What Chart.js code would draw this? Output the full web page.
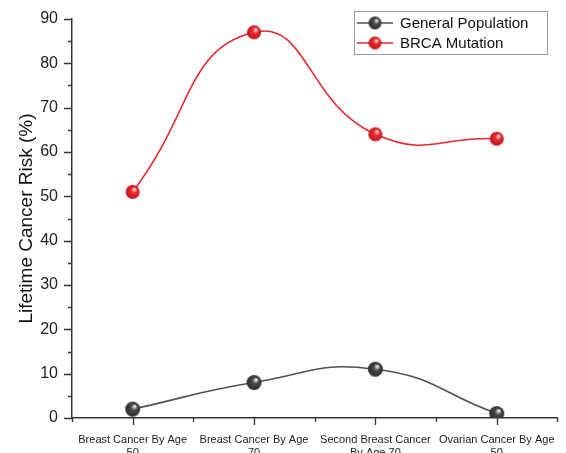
<!DOCTYPE html>
<html>
<head>
<meta charset="utf-8">
<script src="https://cdn.jsdelivr.net/npm/chart.js@4/dist/chart.umd.min.js"></script>
<style>
  html, body { margin: 0; padding: 0; background: #fff; }
  #wrap { width: 566px; height: 453px; }
</style>
</head>
<body>
<div id="wrap"><canvas id="riskChart" width="566" height="453"></canvas></div>
<script>
var categories = [
    ["Breast Cancer By Age", "50"],
    ["Breast Cancer By Age", "70"],
    ["Second Breast Cancer", "By Age 70"],
    ["Ovarian Cancer By Age", "50"]
];
var generalPopulation = [2, 8, 11, 1];
var brcaMutation = [51, 87, 64, 63];
var seriesNames = ["General Population", "BRCA Mutation"];
var yTicks = [0, 10, 20, 30, 40, 50, 60, 70, 80, 90];

var FONT = "'Liberation Sans', Arial, sans-serif";
var grayColor = "#505050";
var redColor = "#e8262c";

// little shaded ball used as point marker
function makeBall(r, base, light, dark) {
    var c = document.createElement('canvas');
    c.width = r * 2 + 2;
    c.height = r * 2 + 2;
    var g = c.getContext('2d');
    var cx = r + 1, cy = r + 1;
    var grad = g.createRadialGradient(cx + r * 0.3, cy - r * 0.4, r * 0.1, cx, cy, r);
    grad.addColorStop(0, light);
    grad.addColorStop(0.35, base);
    grad.addColorStop(1, dark);
    g.fillStyle = grad;
    g.beginPath();
    g.arc(cx, cy, r, 0, Math.PI * 2);
    g.fill();
    return c;
}
var grayBall = makeBall(7.5, "#4a4a4a", "#e8e8e8", "#2a2a2a");
var redBall = makeBall(7, "#ec2a30", "#ffd8d8", "#c01418");
var grayBallSmall = makeBall(6.5, "#4a4a4a", "#e8e8e8", "#2a2a2a");
var redBallSmall = makeBall(6.5, "#ec2a30", "#ffd8d8", "#c01418");

var extras = {
    id: 'extras',
    afterDraw: function(chart) {
        var ctx = chart.ctx;
        var ys = chart.scales.y;
        var area = chart.chartArea;
        ctx.save();
        ctx.strokeStyle = "#333";
        ctx.lineWidth = 1.3;
        ctx.beginPath();
        // y ticks, major at 10s and minor at 5s
        for (var v = 0; v <= 90; v += 5) {
            var py = Math.round(ys.getPixelForValue(v)) + 0.5;
            var len = (v % 10 === 0) ? 8 : 4;
            ctx.moveTo(area.left, py);
            ctx.lineTo(area.left - len, py);
        }
        // x ticks, major at categories, minor at boundaries
        var step = (area.right - area.left) / categories.length;
        for (var i = 0; i <= categories.length * 2; i++) {
            var px = Math.round(area.left + i * step / 2) + 0.5;
            var l = (i % 2 === 1) ? 7 : 4;
            ctx.moveTo(px, area.bottom);
            ctx.lineTo(px, area.bottom + l);
        }
        ctx.stroke();

        // legend box inside the plot
        var bx = 354, by = 11, bw = 193, bh = 43;
        ctx.fillStyle = "#fff";
        ctx.fillRect(bx, by, bw, bh);
        ctx.strokeStyle = "#9a9a9a";
        ctx.lineWidth = 1;
        ctx.strokeRect(bx + 0.5, by + 0.5, bw, bh);
        var rows = [
            {name: seriesNames[0], color: grayColor, ball: grayBallSmall, y: 23},
            {name: seriesNames[1], color: redColor, ball: redBallSmall, y: 43}
        ];
        ctx.font = "15px " + FONT;
        ctx.textBaseline = "middle";
        rows.forEach(function(r) {
            ctx.strokeStyle = r.color;
            ctx.lineWidth = 1.5;
            ctx.beginPath();
            ctx.moveTo(357, r.y);
            ctx.lineTo(393, r.y);
            ctx.stroke();
            ctx.drawImage(r.ball, 375 - r.ball.width / 2, r.y - r.ball.height / 2);
            ctx.fillStyle = "#111";
            ctx.fillText(r.name, 400, r.y + 1);
        });
        ctx.restore();
    }
};

var ctx = document.getElementById('riskChart').getContext('2d');
var riskChart = new Chart(ctx, {
    type: 'line',
    data: {
        labels: categories,
        datasets: [{
            label: seriesNames[0],
            data: generalPopulation,
            borderColor: grayColor,
            borderWidth: 1.6,
            tension: 0.5,
            pointStyle: grayBall,
            pointRadius: 7,
            fill: false
        }, {
            label: seriesNames[1],
            data: brcaMutation,
            borderColor: redColor,
            borderWidth: 1.6,
            tension: 0.5,
            pointStyle: redBall,
            pointRadius: 7,
            fill: false
        }]
    },
    options: {
        responsive: false,
        animation: false,
        layout: { padding: { top: 19, right: 1, left: 0, bottom: 0 } },
        plugins: {
            legend: { display: false },
            tooltip: { enabled: false }
        },
        scales: {
            x: {
                offset: true,
                grid: { display: false },
                border: { display: true, color: "#333", width: 1.5 },
                ticks: {
                    color: "#222",
                    font: { family: FONT, size: 11 },
                    maxRotation: 0,
                    autoSkip: false,
                    padding: 7
                },
                afterFit: function(scale) { scale.height = 35; }
            },
            y: {
                min: 0,
                max: 90,
                grid: { display: false },
                border: { display: true, color: "#333", width: 1.5 },
                afterBuildTicks: function(scale) {
                    scale.ticks = yTicks.map(function(v) { return {value: v}; });
                },
                ticks: {
                    color: "#222",
                    font: { family: FONT, size: 16 },
                    padding: 6
                },
                title: {
                    display: true,
                    text: "Lifetime Cancer Risk (%)",
                    color: "#111",
                    font: { family: FONT, size: 19 },
                    padding: { top: 15, bottom: 0 }
                },
                afterFit: function(scale) { scale.width = 72; }
            }
        }
    },
    plugins: [extras]
});
</script>
</body>
</html>
